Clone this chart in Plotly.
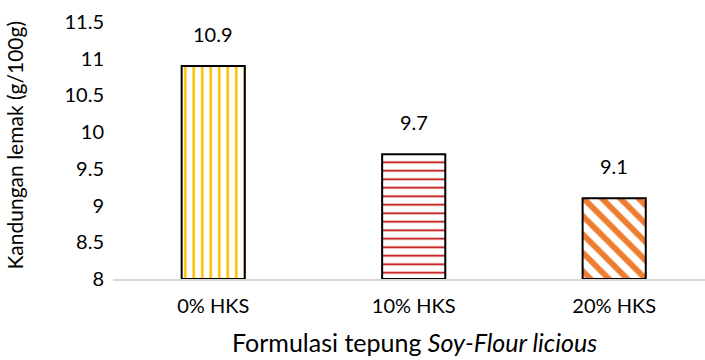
import plotly.graph_objects as go

categories = ["0% HKS", "10% HKS", "20% HKS"]
values = [10.9, 9.7, 9.1]
labels = ["10.9", "9.7", "9.1"]
y_ticks = [8, 8.5, 9, 9.5, 10, 10.5, 11, 11.5]
y_tick_text = ["8", "8.5", "9", "9.5", "10", "10.5", "11", "11.5"]
x_title = "Formulasi tepung <i>Soy-Flour licious</i>"
y_title = "Kandungan lemak (g/100g)"

colors = ["#FFC000", "#C00000", "#ED7D31"]
shapes = ["|", "-", "\\"]
sizes = [8.5, 8.5, 13]
solid = [0.3, 0.2, 0.45]

FONT = "Lato, 'Open Sans', sans-serif"

fig = go.Figure()
for i in range(3):
    fig.add_trace(go.Bar(
        x=[categories[i]], y=[values[i] - 8], base=8,
        width=0.315,
        marker=dict(color="white",
                    line=dict(color="black", width=2),
                    pattern=dict(shape=shapes[i], fgcolor=colors[i], bgcolor="white",
                                 fgopacity=1, size=sizes[i], solidity=solid[i],
                                 fillmode="overlay")),
        showlegend=False, hoverinfo="skip"))
    fig.add_annotation(x=categories[i], y=values[i], text=labels[i], showarrow=False,
                       yanchor="bottom", yshift=18, font=dict(size=20, color="#000"))

# axis titles as annotations for exact placement
fig.add_annotation(xref="paper", yref="paper", x=0, y=0.5, text=y_title, textangle=-90,
                   showarrow=False, xanchor="center", yanchor="middle",
                   xshift=-99, yshift=5, font=dict(size=21, color="#000"))
fig.add_annotation(xref="paper", yref="paper", x=0.5, y=0, text=x_title,
                   showarrow=False, xanchor="center", yanchor="middle",
                   xshift=5, yshift=-63, font=dict(size=25, color="#000"))

fig.update_layout(
    width=705, height=360,
    margin=dict(l=113, r=0, t=22, b=81),
    paper_bgcolor="white", plot_bgcolor="white",
    font=dict(family=FONT, size=20, color="#000"),
    barmode="overlay",
    xaxis=dict(range=[-0.5, 2.453], showline=True, linecolor="#D9D9D9", linewidth=1.5,
               automargin=False,
               ticks="outside", ticklen=8, tickcolor="rgba(0,0,0,0)",
               tickfont=dict(size=20)),
    yaxis=dict(range=[8, 11.5], tickvals=y_ticks, ticktext=y_tick_text,
               automargin=False,
               showgrid=False, zeroline=False, showline=False,
               ticks="outside", ticklen=4, tickcolor="rgba(0,0,0,0)",
               tickfont=dict(size=20)),
)

fig.write_html("out.html", config={"displayModeBar": False},
               post_script="document.body.style.margin='0';document.body.style.overflow='hidden';")
